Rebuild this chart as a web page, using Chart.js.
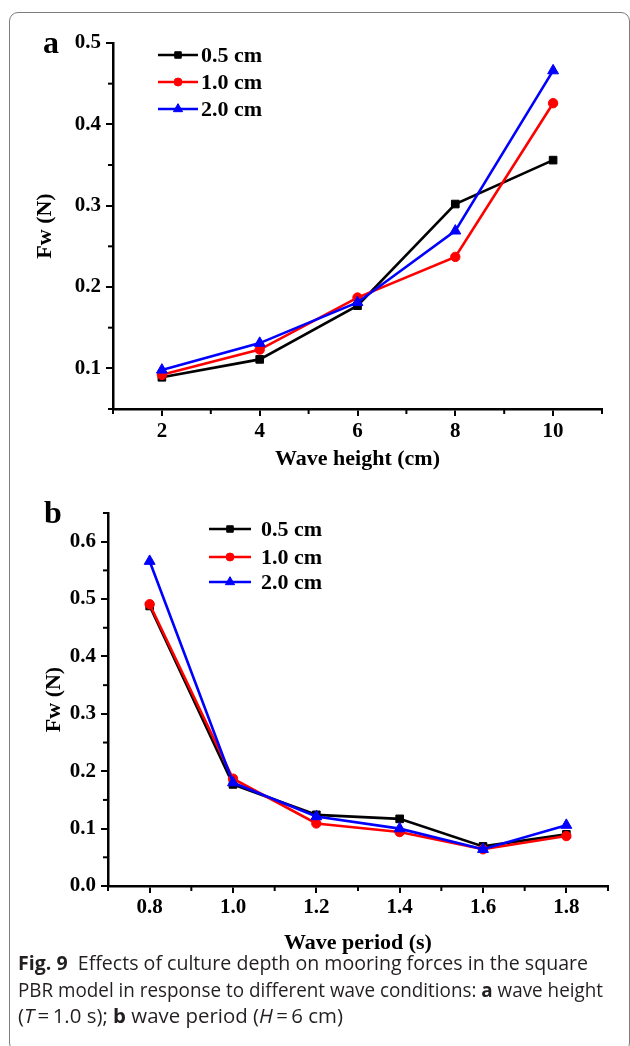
<!DOCTYPE html>
<html><head><meta charset="utf-8">
<script src="https://cdn.jsdelivr.net/npm/chart.js@4.4.1/dist/chart.umd.min.js"></script>
<style>
html,body{margin:0;padding:0;background:#fff;width:630px;height:1046px;overflow:hidden}
#frame{position:absolute;left:8.5px;top:11.5px;width:621px;height:1040px;border:1.5px solid #7d7d7d;border-radius:9px;box-sizing:border-box}
canvas{position:absolute;left:0}
#ca{top:0}
#cb{top:480px}
.panel{position:absolute;font-family:"Liberation Serif","Times New Roman",serif;font-weight:bold;font-size:32px;line-height:32px;color:#000}
#cap{position:absolute;left:18px;top:950px;font-family:"Open Sans","Noto Sans",sans-serif;font-size:20px;line-height:26.5px;color:#231f20;white-space:nowrap}
#cap div{height:26.5px}
#cap span{display:inline-block;transform-origin:0 50%}
#cap b{font-weight:bold}
</style></head>
<body>
<div id="frame"></div>
<canvas id="ca" width="630" height="480"></canvas>
<canvas id="cb" width="630" height="480"></canvas>
<div class="panel" style="left:43px;top:26px">a</div>
<div class="panel" style="left:44px;top:496px">b</div>
<div id="cap"><div><span data-w="570"><b>Fig. 9</b>&nbsp; Effects of culture depth on mooring forces in the square</span></div><div><span data-w="585">PBR model in response to different wave conditions: <b>a</b> wave height</span></div><div><span data-w="325">(<i>T</i>&thinsp;=&thinsp;1.0 s); <b>b</b> wave period (<i>H</i>&thinsp;=&thinsp;6 cm)</span></div></div>
<script>
// ---------- data ----------
const seriesNames = ['0.5 cm', '1.0 cm', '2.0 cm'];
const seriesColors = ['#000000', '#ff0000', '#0000ff'];
const seriesMarkers = ['rect', 'circle', 'triangle'];

const heightCats = [2, 4, 6, 8, 10];
const heightS05 = [0.089, 0.111, 0.177, 0.302, 0.356];
const heightS10 = [0.092, 0.123, 0.187, 0.237, 0.426];
const heightS20 = [0.098, 0.131, 0.181, 0.269, 0.466];

const periodCats = [0.8, 1.0, 1.2, 1.4, 1.6, 1.8];
const periodS05 = [0.488, 0.177, 0.124, 0.117, 0.069, 0.090];
const periodS10 = [0.491, 0.187, 0.109, 0.094, 0.064, 0.087];
const periodS20 = [0.566, 0.180, 0.121, 0.100, 0.064, 0.106];

const heightXTicks = [2, 4, 6, 8, 10];
const heightXTickLabels = ['2', '4', '6', '8', '10'];
const heightXMinor = [1, 3, 5, 7, 9, 11];
const heightYTicks = [0.1, 0.2, 0.3, 0.4, 0.5];
const heightYTickLabels = ['0.1', '0.2', '0.3', '0.4', '0.5'];
const heightYMinor = [0.05, 0.15, 0.25, 0.35, 0.45];

const periodXTicks = [0.8, 1.0, 1.2, 1.4, 1.6, 1.8];
const periodXTickLabels = ['0.8', '1.0', '1.2', '1.4', '1.6', '1.8'];
const periodXMinor = [0.7, 0.9, 1.1, 1.3, 1.5, 1.7, 1.9];
const periodYTicks = [0.0, 0.1, 0.2, 0.3, 0.4, 0.5, 0.6];
const periodYTickLabels = ['0.0', '0.1', '0.2', '0.3', '0.4', '0.5', '0.6'];
const periodYMinor = [0.05, 0.15, 0.25, 0.35, 0.45, 0.55, 0.65];

// ---------- helpers ----------
const SERIF = '"Liberation Serif","Times New Roman",serif';
const markerRadius = {rect: 5.4, circle: 4.7, triangle: 6.3};

function drawMarker(ctx, style, r, x, y, color) {
  ctx.save();
  ctx.fillStyle = color; ctx.strokeStyle = color; ctx.lineWidth = 1;
  ctx.beginPath();
  if (style === 'rect') {
    const s = r * Math.SQRT1_2;
    ctx.rect(x - s, y - s, 2 * s, 2 * s);
  } else if (style === 'circle') {
    ctx.arc(x, y, r, 0, Math.PI * 2);
  } else {
    for (let k = 0; k < 3; k++) {
      const a = k * 2 * Math.PI / 3;
      const px = x + Math.sin(a) * r, py = y - Math.cos(a) * r;
      if (k === 0) ctx.moveTo(px, py); else ctx.lineTo(px, py);
    }
    ctx.closePath();
  }
  ctx.fill(); ctx.stroke();
  ctx.restore();
}

const decor = {
  id: 'decor',
  afterDraw(chart, args, opts) {
    const ctx = chart.ctx;
    const xs = chart.scales.x, ys = chart.scales.y;
    ctx.save();
    ctx.strokeStyle = '#000'; ctx.lineWidth = 2;
    opts.xMinor.forEach(v => {
      const px = xs.getPixelForValue(v);
      ctx.beginPath(); ctx.moveTo(px, xs.top); ctx.lineTo(px, xs.top + 5); ctx.stroke();
    });
    opts.yMinor.forEach(v => {
      const py = ys.getPixelForValue(v);
      ctx.beginPath(); ctx.moveTo(ys.right, py); ctx.lineTo(ys.right - 5, py); ctx.stroke();
    });
    // legend
    const L = opts.legend;
    chart.data.datasets.forEach((ds, i) => {
      const y = L.rows[i];
      ctx.strokeStyle = ds.borderColor; ctx.lineWidth = 2.5;
      ctx.beginPath(); ctx.moveTo(L.x0, y); ctx.lineTo(L.x1, y); ctx.stroke();
      drawMarker(ctx, ds.pointStyle, markerRadius[ds.pointStyle] * 0.85, (L.x0 + L.x1) / 2, y, ds.borderColor);
      ctx.fillStyle = '#000';
      ctx.font = 'bold ' + L.size + 'px ' + SERIF;
      ctx.textBaseline = 'middle'; ctx.textAlign = 'left';
      ctx.fillText(ds.label, L.tx, y + 1);
    });
    ctx.restore();
  }
};

function makeDatasets(xv, arrs) {
  return arrs.map((arr, i) => ({
    label: seriesNames[i],
    data: xv.map((x, j) => ({x: x, y: arr[j]})),
    borderColor: seriesColors[i],
    backgroundColor: seriesColors[i],
    pointBackgroundColor: seriesColors[i],
    pointBorderColor: seriesColors[i],
    pointStyle: seriesMarkers[i],
    pointRadius: markerRadius[seriesMarkers[i]],
    pointBorderWidth: 1,
    borderWidth: 2.6,
    tension: 0,
    order: 2 - i
  }));
}

function makeChart(canvas, p) {
  return new Chart(canvas, {
    type: 'line',
    data: {datasets: makeDatasets(p.cats, p.series)},
    plugins: [decor],
    options: {
      responsive: false, animation: false, devicePixelRatio: 1,
      layout: {padding: {top: p.top, right: p.right, left: 0, bottom: 0}},
      plugins: {legend: {display: false}, tooltip: {enabled: false}, decor: {xMinor: p.xMinor, yMinor: p.yMinor, legend: p.legend}},
      scales: {
        x: {
          type: 'linear', min: p.xMin, max: p.xMax,
          afterBuildTicks: s => { s.ticks = p.xTicks.map(v => ({value: v})); },
          afterFit: s => { s.height = p.xAxisH; s.paddingLeft = 0; s.paddingRight = 0; },
          ticks: {callback: (v, i) => p.xLabels[i], font: {family: SERIF, weight: 'bold', size: p.tickSize}, color: '#000', padding: p.xTickPad, maxRotation: 0, autoSkip: false},
          grid: {drawOnChartArea: false, drawTicks: true, tickLength: 7, color: '#000', lineWidth: 2},
          border: {display: true, color: '#000', width: 2.5},
          title: {display: true, text: p.xTitle, font: {family: SERIF, weight: 'bold', size: 22}, color: '#000', padding: {top: 0, bottom: p.xTitlePad}}
        },
        y: {
          type: 'linear', min: p.yMin, max: p.yMax,
          afterBuildTicks: s => { s.ticks = p.yTicks.map(v => ({value: v})); },
          afterFit: s => { s.width = p.yAxisW; s.paddingTop = 0; s.paddingBottom = 0; },
          ticks: {callback: (v, i) => p.yLabels[i], font: {family: SERIF, weight: 'bold', size: p.tickSize}, color: '#000', padding: 5, autoSkip: false},
          grid: {drawOnChartArea: false, drawTicks: true, tickLength: 7, color: '#000', lineWidth: 2},
          border: {display: true, color: '#000', width: 2.5},
          title: {display: true, text: 'Fw (N)', font: {family: SERIF, weight: 'bold', size: 22}, color: '#000', padding: {top: p.yTitlePad, bottom: 0}}
        }
      }
    }
  });
}

makeChart(document.getElementById('ca'), {
  cats: heightCats, series: [heightS05, heightS10, heightS20],
  top: 43, right: 28, xAxisH: 71, yAxisW: 113,
  xMin: 1, xMax: 11, yMin: 0.05, yMax: 0.5,
  xTicks: heightXTicks, xLabels: heightXTickLabels, xMinor: heightXMinor,
  yTicks: heightYTicks, yLabels: heightYTickLabels, yMinor: heightYMinor,
  tickSize: 21, xTickPad: 3, xTitle: 'Wave height (cm)', xTitlePad: 7, yTitlePad: 32,
  legend: {x0: 158, x1: 198, tx: 201, rows: [55, 82, 109], size: 22}
});

makeChart(document.getElementById('cb'), {
  cats: periodCats, series: [periodS05, periodS10, periodS20],
  top: 33, right: 22, xAxisH: 74, yAxisW: 108,
  xMin: 0.7, xMax: 1.9, yMin: 0, yMax: 0.65,
  xTicks: periodXTicks, xLabels: periodXTickLabels, xMinor: periodXMinor,
  yTicks: periodYTicks, yLabels: periodYTickLabels, yMinor: periodYMinor,
  tickSize: 21, xTickPad: 2, xTitle: 'Wave period (s)', xTitlePad: 3, yTitlePad: 41,
  legend: {x0: 209, x1: 251, tx: 261, rows: [49, 77, 102], size: 22}
});

// fit each caption line to the reference line width
document.querySelectorAll('#cap span').forEach(sp => {
  const tw = sp.getBoundingClientRect().width;
  sp.style.transform = 'scaleX(' + (parseFloat(sp.dataset.w) / tw) + ')';
});
</script>
</body></html>
